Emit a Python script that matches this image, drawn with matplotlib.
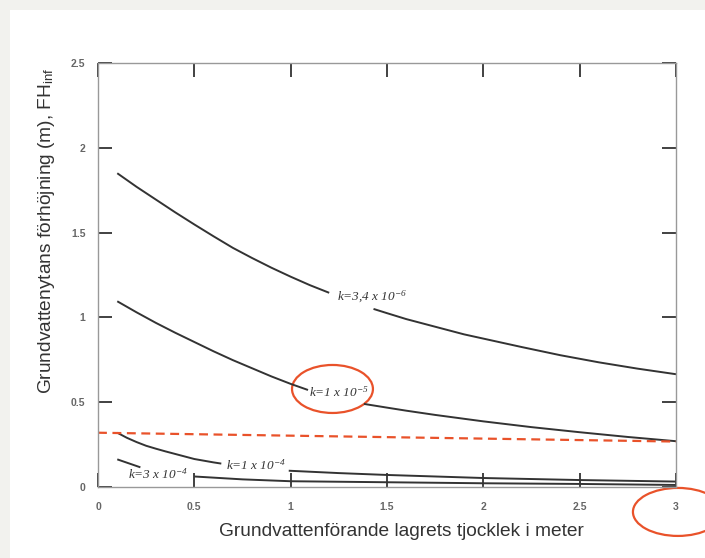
import matplotlib
matplotlib.use('Agg')
import matplotlib.pyplot as plt
from matplotlib.patches import Ellipse, Rectangle

plt.rcParams['font.family'] = ['Liberation Sans', 'DejaVu Sans']
plt.rcParams['mathtext.fontset'] = 'custom'
plt.rcParams['mathtext.rm'] = 'Liberation Serif:italic'
plt.rcParams['mathtext.it'] = 'Liberation Serif:italic'
plt.rcParams['mathtext.sf'] = 'Liberation Sans'

# curves, split where the labels sit
k34_x1 = [0.1, 0.2, 0.3, 0.4, 0.5, 0.6, 0.7, 0.8, 0.9, 1.0, 1.1, 1.2]
k34_y1 = [1.85, 1.77, 1.695, 1.62, 1.548, 1.478, 1.41, 1.35, 1.293, 1.24, 1.19, 1.145]
k34_x2 = [1.43, 1.5, 1.6, 1.7, 1.8, 1.9, 2.0, 2.2, 2.4, 2.6, 2.8, 3.0]
k34_y2 = [1.05, 1.025, 0.99, 0.96, 0.93, 0.90, 0.875, 0.825, 0.777, 0.735, 0.698, 0.665]

k1e5_x1 = [0.1, 0.2, 0.3, 0.4, 0.5, 0.6, 0.7, 0.8, 0.9, 1.0, 1.09]
k1e5_y1 = [1.095, 1.03, 0.968, 0.91, 0.855, 0.80, 0.748, 0.70, 0.652, 0.608, 0.572]
k1e5_x2 = [1.38, 1.5, 1.6, 1.75, 2.0, 2.25, 2.5, 2.75, 3.0]
k1e5_y2 = [0.49, 0.468, 0.45, 0.425, 0.387, 0.353, 0.323, 0.295, 0.27]

k1e4_x1 = [0.1, 0.15, 0.2, 0.25, 0.3, 0.35, 0.4, 0.45, 0.5, 0.55, 0.6, 0.64]
k1e4_y1 = [0.32, 0.29, 0.265, 0.243, 0.226, 0.21, 0.195, 0.18, 0.165, 0.155, 0.145, 0.138]
k1e4_x2 = [0.99, 1.25, 1.5, 2.0, 2.5, 3.0]
k1e4_y2 = [0.096, 0.082, 0.071, 0.053, 0.041, 0.032]

k3e4_x1 = [0.1, 0.22]
k3e4_y1 = [0.163, 0.116]
k3e4_x2 = [0.5, 0.75, 1.0, 1.5, 2.0, 2.5, 3.0]
k3e4_y2 = [0.062, 0.045, 0.034, 0.028, 0.022, 0.018, 0.012]

ref_x = [0, 3]
ref_y = [0.32, 0.268]

x_ticks = [0, 0.5, 1, 1.5, 2, 2.5, 3]
x_ticklabels = ['0', '0.5', '1', '1.5', '2', '2.5', '3']
y_ticks = [0, 0.5, 1, 1.5, 2, 2.5]
y_ticklabels = ['0', '0.5', '1', '1.5', '2', '2.5']

curve_labels = ['k=3,4 x 10$^{-6}$', 'k=1 x 10$^{-5}$', 'k=1 x 10$^{-4}$', 'k=3 x 10$^{-4}$']
label_x = [1.42, 1.25, 0.82, 0.31]
label_y = [1.12, 0.56, 0.13, 0.077]

red = '#e9522a'
dark = '#333333'

fig = plt.figure(figsize=(7.05, 5.58), dpi=100)
fig.patch.set_facecolor('#f2f2ee')
card = Rectangle((10 / 705, 0), 1, 1 - 10 / 558, transform=fig.transFigure,
                 facecolor='white', edgecolor='none', zorder=-5)
fig.patches.append(card)

ax = fig.add_axes([98 / 705, 1 - 487 / 558, 578 / 705, 424 / 558])
ax.set_facecolor('white')

for xs, ys in [(k34_x1, k34_y1), (k34_x2, k34_y2), (k1e5_x1, k1e5_y1), (k1e5_x2, k1e5_y2),
               (k1e4_x1, k1e4_y1), (k1e4_x2, k1e4_y2), (k3e4_x1, k3e4_y1), (k3e4_x2, k3e4_y2)]:
    ax.plot(xs, ys, color=dark, lw=1.4, solid_capstyle='butt', solid_joinstyle='round')

ax.plot(ref_x, ref_y, color=red, lw=1.6, dashes=(4, 2.5))

for s, lx, ly in zip(curve_labels, label_x, label_y):
    ax.text(lx, ly, s, fontsize=9.5, color=dark, ha='center', va='center',
            family='Liberation Serif', style='italic')

# red rings
ax.add_patch(Ellipse((1.217, 0.578), 0.42, 0.283, fill=False, edgecolor=red, lw=1.6, clip_on=False))
ax.add_patch(Ellipse((3.01, -0.147), 0.467, 0.283, fill=False, edgecolor=red, lw=1.6, clip_on=False))

ax.set_xlim(0, 3)
ax.set_ylim(0, 2.5)
ax.set_xticks(x_ticks)
ax.set_xticklabels(x_ticklabels)
ax.set_yticks(y_ticks)
ax.set_yticklabels(y_ticklabels)

ax.tick_params(direction='in', length=10, width=1.3, color=dark, top=True, right=True,
               labelsize=7.5, labelcolor='#666666')
ax.tick_params(axis='x', pad=11)
ax.tick_params(axis='y', pad=9)
for lab in ax.get_xticklabels() + ax.get_yticklabels():
    lab.set_fontweight('bold')
for sp in ax.spines.values():
    sp.set_color('#999999')
    sp.set_linewidth(1.0)

fig.text(401 / 705, 1 - 532 / 558, 'Grundvattenförande lagrets tjocklek i meter',
         fontsize=13.8, color=dark, ha='center', va='center')
fig.text(47 / 705, 1 - 231 / 558, r'Grundvattenytans förhöjning (m), FH$_{\mathsf{inf}}$',
         fontsize=13.8, color=dark, ha='center', va='center', rotation=90)

fig.savefig('out.png', dpi=100, facecolor=fig.get_facecolor())
